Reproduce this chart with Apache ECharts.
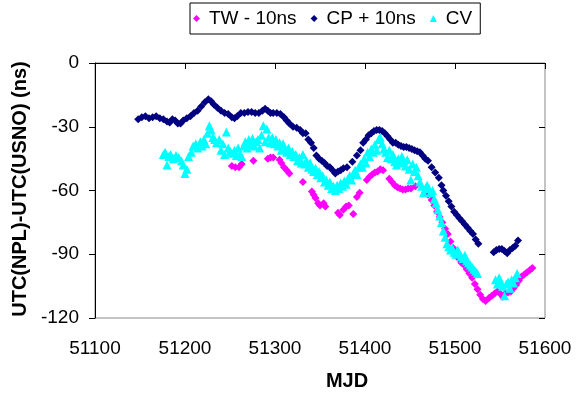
<!DOCTYPE html>
<html>
<head>
<meta charset="utf-8">
<style>
  html, body { margin: 0; padding: 0; background: #fff; }
  #chart { width: 576px; height: 398px; }
</style>
<script src="https://cdn.jsdelivr.net/npm/echarts@6/dist/echarts.min.js"></script>
</head>
<body>
<div id="chart"></div>
<script>
// values: [MJD, ns]
var twData = [
  [51252, -48.5], [51256, -49], [51260, -49], [51263, -47.5], [51276, -46],
  [51292, -45], [51295, -44.5], [51298, -44.5], [51305, -45.5], [51307, -47],
  [51310, -49], [51313, -50.5], [51316, -52], [51331, -56], [51341, -60.5],
  [51343, -62], [51345, -63.5], [51348, -66], [51350, -67], [51354, -66],
  [51356, -67.5], [51370, -70.5], [51372, -71.5], [51376, -69], [51379, -67.5],
  [51382, -67], [51387, -71], [51391, -63], [51394, -61], [51402, -55],
  [51405, -53.5], [51408, -52.5], [51411, -51.5], [51414, -51], [51417, -50],
  [51420, -50.5], [51427, -54.5], [51430, -56], [51433, -57.5], [51436, -58.5],
  [51439, -59], [51442, -59.5], [51445, -59.5], [51448, -59], [51451, -59],
  [51456, -58], [51470, -62], [51474, -64.5], [51477, -67], [51480, -70],
  [51483, -72.5], [51486, -75], [51489, -78], [51492, -80.5], [51495, -84],
  [51498, -87], [51501, -89], [51504, -92], [51507, -94], [51510, -95],
  [51513, -97], [51516, -99], [51519, -101], [51522, -104], [51525, -106.5],
  [51528, -109], [51531, -111], [51534, -112], [51538, -110.5], [51541, -109.5],
  [51544, -108.5], [51547, -107.5], [51550, -108.5], [51553, -110], [51556, -108.5],
  [51559, -108], [51562, -107.5], [51565, -106], [51568, -104.5], [51571, -102.5],
  [51574, -100.5], [51577, -99.5], [51580, -98.5], [51583, -97.5], [51586, -96.5]
];

var cpData = [
  [51148, -26.5], [51152, -25.5], [51156, -25], [51160, -26], [51164, -25.5],
  [51168, -25], [51172, -26], [51176, -26.5], [51180, -27.5], [51183, -28],
  [51186, -26.5], [51189, -27], [51192, -28.5], [51195, -28.5], [51198, -27],
  [51202, -26], [51206, -25], [51210, -23.5], [51214, -22.5], [51218, -20.5],
  [51222, -18.5], [51226, -17], [51229, -18], [51232, -19.5], [51236, -21],
  [51240, -22.5], [51244, -23.5], [51248, -24], [51252, -25.5], [51255, -26],
  [51258, -25], [51262, -23.5], [51266, -23.5], [51270, -23], [51274, -23],
  [51278, -23.5], [51282, -23.5], [51286, -22.5], [51289, -21.5], [51292, -22.5],
  [51295, -23.5], [51298, -23.5], [51302, -23.5], [51306, -24], [51310, -25.5],
  [51313, -27], [51316, -28.5], [51320, -30], [51324, -30.5], [51328, -31.5],
  [51331, -33], [51334, -33], [51337, -36], [51340, -37.5], [51343, -40],
  [51346, -43.5], [51349, -45], [51352, -46], [51355, -47], [51358, -48.5],
  [51361, -49], [51364, -50.5], [51367, -52], [51370, -51], [51373, -50.5],
  [51376, -49.5], [51380, -49], [51386, -46.5], [51391, -43.5], [51395, -41],
  [51398, -37.5], [51401, -36], [51404, -34], [51407, -33], [51410, -32],
  [51413, -31.5], [51416, -31.5], [51419, -32], [51422, -33], [51425, -34.5],
  [51428, -36], [51431, -37.5], [51434, -37.5], [51437, -38.5], [51440, -39],
  [51443, -39.5], [51446, -39.5], [51449, -40], [51452, -40.5], [51455, -41],
  [51458, -41.5], [51461, -42], [51464, -43.5], [51467, -45], [51470, -46],
  [51474, -49], [51478, -51.5], [51482, -54], [51485, -57.5], [51487, -60],
  [51490, -62.5], [51493, -65], [51496, -67.5], [51499, -70], [51502, -71.5],
  [51505, -73], [51508, -74.5], [51511, -76], [51514, -77.5], [51517, -79],
  [51520, -80.5], [51523, -83], [51526, -85], [51543, -89], [51546, -88],
  [51549, -87.5], [51552, -87.5], [51555, -88.5], [51558, -89.5], [51561, -88],
  [51564, -87], [51567, -86], [51570, -83.5]
];

var cvData = [
  [51176, -43], [51178, -42], [51180, -48], [51182, -44], [51184, -43],
  [51187, -45], [51190, -43.5], [51193, -44.5], [51196, -46], [51198, -48],
  [51200, -52], [51202, -50], [51204, -44], [51207, -42], [51209, -39],
  [51212, -38], [51214, -40], [51217, -37], [51219, -39], [51221, -36],
  [51223, -38], [51225, -33], [51227, -29.5], [51229, -31.5], [51231, -35],
  [51233, -36], [51235, -37.5], [51238, -36], [51240, -41], [51242, -38],
  [51244, -43], [51246, -32.5], [51248, -40], [51250, -41.5], [51252, -42.5],
  [51255, -41], [51257, -43.5], [51259, -40], [51261, -43], [51263, -44],
  [51265, -39], [51267, -37], [51269, -40], [51271, -36], [51273, -38.5],
  [51275, -35.5], [51277, -39], [51279, -37], [51281, -36], [51283, -40],
  [51285, -34], [51287, -29.5], [51289, -37], [51291, -31], [51293, -35],
  [51295, -37.5], [51297, -35], [51299, -38], [51301, -36], [51303, -39],
  [51305, -37.5], [51307, -41], [51309, -38], [51311, -40.5], [51313, -42],
  [51315, -40], [51317, -43], [51319, -41.5], [51321, -44], [51323, -43],
  [51325, -46], [51327, -44.5], [51329, -47], [51331, -43], [51333, -47.5],
  [51335, -46], [51337, -49], [51339, -47], [51341, -50], [51343, -51],
  [51345, -49.5], [51347, -52.5], [51349, -51], [51351, -54], [51353, -53],
  [51355, -56], [51357, -55], [51359, -57.5], [51361, -56], [51363, -59],
  [51365, -58], [51367, -60], [51369, -57.5], [51371, -59], [51373, -56.5],
  [51375, -58], [51377, -55.5], [51379, -57], [51381, -54.5], [51383, -53],
  [51385, -55], [51387, -52], [51389, -50.5], [51391, -52.5], [51393, -49],
  [51395, -47.5], [51397, -49], [51399, -45], [51401, -47], [51403, -42],
  [51405, -44], [51407, -40.5], [51409, -42], [51411, -38.5], [51413, -41],
  [51415, -36], [51417, -35], [51419, -38], [51421, -40.5], [51423, -42],
  [51425, -44.5], [51427, -41], [51429, -45], [51431, -43], [51433, -46.5],
  [51435, -48], [51437, -45], [51439, -47], [51441, -44], [51443, -46],
  [51445, -48.5], [51447, -45.5], [51449, -50], [51451, -55], [51453, -47.5],
  [51455, -51], [51457, -49], [51459, -53], [51461, -56], [51463, -58],
  [51465, -61], [51467, -59], [51469, -57.5], [51471, -59], [51473, -61],
  [51475, -60], [51477, -64], [51479, -66], [51481, -69], [51483, -72],
  [51485, -75], [51487, -79], [51489, -82], [51491, -85], [51493, -86.5],
  [51495, -88], [51497, -87], [51499, -89], [51501, -90], [51503, -88],
  [51505, -89.5], [51507, -91], [51509, -92], [51511, -90.5], [51513, -93],
  [51515, -94], [51517, -95], [51519, -96], [51521, -97], [51523, -98],
  [51525, -99], [51545, -102], [51547, -104], [51549, -101], [51551, -103],
  [51553, -105], [51555, -109.5], [51557, -104], [51559, -103], [51561, -106],
  [51563, -102], [51565, -103.5], [51567, -101], [51569, -99]
];

var seriesNames = ['TW - 10ns', 'CP + 10ns', 'CV'];
var xMin = 51100, xMax = 51600, xStep = 100;
var yMin = -120, yMax = 0, yStep = 30;

var font = 'Liberation Sans, Arial, sans-serif';
var chart = echarts.init(document.getElementById('chart'));

// second pair of axes only draws the inward half of the crossing ticks
function tickAxis(base, inside) {
  return Object.assign({}, base, {
    axisTick: { show: true, inside: inside, length: 6, lineStyle: { color: '#000' } },
    axisLabel: {
      show: !inside, margin: base.axisLabel.margin, fontSize: 19, color: '#000', fontFamily: font,
      formatter: function (v) { return String(v); }
    },
    axisLine: { show: !inside, lineStyle: { color: '#000', width: 1 } }
  });
}

var xBase = { type: 'value', min: xMin, max: xMax, interval: xStep, splitLine: { show: false }, axisLabel: { margin: 21 } };
var yBase = { type: 'value', min: yMin, max: yMax, interval: yStep, splitLine: { show: false }, axisLabel: { margin: 16 } };

chart.setOption({
  animation: false,
  backgroundColor: '#fff',
  textStyle: { fontFamily: font },
  grid: { left: 95, right: 31, top: 63, bottom: 80, show: true, borderColor: '#888', borderWidth: 1 },
  legend: {
    data: [
      { name: seriesNames[0], icon: 'diamond' },
      { name: seriesNames[1], icon: 'diamond' },
      { name: seriesNames[2], icon: 'triangle' }
    ],
    left: 190, top: 3,
    padding: [6, 8, 6, 3],
    itemWidth: 7, itemHeight: 7, itemGap: 14,
    borderColor: '#000', borderWidth: 1,
    textStyle: { fontSize: 19, color: '#000', fontFamily: font, padding: [0, 0, 0, 4] }
  },
  xAxis: [tickAxis(xBase, false), tickAxis(xBase, true)],
  yAxis: [tickAxis(yBase, false), tickAxis(yBase, true)],
  graphic: [
    { type: 'text', x: 347, y: 381, style: { text: 'MJD', font: 'bold 20px ' + font, fill: '#000', align: 'center', verticalAlign: 'middle' } },
    { type: 'text', x: 20, y: 189, rotation: Math.PI / 2, style: { text: 'UTC(NPL)-UTC(USNO) (ns)', font: 'bold 20px ' + font, fill: '#000', align: 'center', verticalAlign: 'middle' } }
  ],
  series: [
    { name: seriesNames[0], type: 'scatter', data: twData, symbol: 'diamond', symbolSize: 8, itemStyle: { color: '#ff00ff', opacity: 1 } },
    { name: seriesNames[1], type: 'scatter', data: cpData, symbol: 'diamond', symbolSize: 8, itemStyle: { color: '#000080', opacity: 1 } },
    { name: seriesNames[2], type: 'scatter', data: cvData, symbol: 'triangle', symbolSize: 9, itemStyle: { color: '#00ffff', opacity: 1 } }
  ]
});
</script>
</body>
</html>
